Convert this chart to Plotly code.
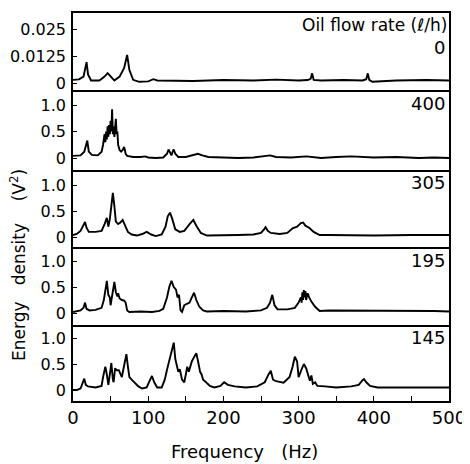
import plotly.graph_objects as go

# ---------------- data ----------------
flow_labels = ["0", "400", "305", "195", "145"]

f0 = [0, 8, 14, 17, 18, 20, 24, 35, 42, 46, 50, 55, 62, 68, 72, 75, 80, 88, 100, 107, 112, 130, 160,
      200, 240, 270, 300, 312, 316, 318, 320, 330, 360, 385, 390, 392, 394, 398, 430, 470, 500]
v0 = [0.0015, 0.0017, 0.003, 0.008, 0.0097, 0.004, 0.0012, 0.0012, 0.003, 0.0046, 0.003, 0.0012, 0.003,
      0.007, 0.013, 0.006, 0.0015, 0.0006, 0.0008, 0.0018, 0.0012, 0.0012, 0.001, 0.0014, 0.0012, 0.0016,
      0.0012, 0.0014, 0.002, 0.0045, 0.0015, 0.0012, 0.0014, 0.0012, 0.0018, 0.0045, 0.0015, 0.0006,
      0.0012, 0.0014, 0.0012]

f1 = [0, 5, 10, 15, 17, 19, 21, 25, 33, 38, 40, 42, 43, 44, 45, 46, 47, 48, 49, 50, 51, 52, 53, 54,
      55, 56, 57, 58, 59, 60, 62, 64, 66, 68, 69, 70, 72, 75, 80, 90, 96, 100, 110, 120, 125, 127, 129,
      131, 133, 134, 136, 140, 150, 160, 166, 172, 180, 200, 220, 240, 262, 270, 290, 310, 330, 350,
      370, 400, 430, 460, 480, 500]
v1 = [0.04, 0.05, 0.05, 0.12, 0.25, 0.33, 0.12, 0.06, 0.05, 0.12, 0.25, 0.45, 0.3, 0.5, 0.35, 0.6,
      0.4, 0.62, 0.45, 0.7, 0.5, 0.92, 0.45, 0.6, 0.4, 0.55, 0.74, 0.45, 0.5, 0.25, 0.15, 0.12, 0.15,
      0.21, 0.12, 0.08, 0.04, 0.03, 0.02, 0.02, 0.03, 0.01, 0.0, 0.01, 0.08, 0.16, 0.1, 0.05, 0.14,
      0.16, 0.08, 0.02, 0.02, 0.05, 0.08, 0.05, 0.02, 0.01, 0.0, 0.01, 0.05, 0.02, 0.01, 0.03, 0.0,
      0.02, 0.03, 0.01, 0.02, 0.0, 0.01, 0.0]

f2 = [0, 5, 10, 14, 16, 18, 21, 30, 38, 42, 45, 47, 49, 51, 53, 55, 57, 60, 63, 66, 69, 73, 78, 85,
      92, 98, 104, 110, 118, 123, 126, 129, 132, 136, 142, 148, 155, 160, 164, 170, 178, 190, 220, 240,
      250, 254, 256, 259, 263, 275, 285, 292, 298, 303, 306, 309, 314, 320, 328, 340, 400, 450, 500]
v2 = [0.04, 0.06, 0.12, 0.22, 0.29, 0.18, 0.1, 0.1, 0.12, 0.25, 0.37, 0.2, 0.35, 0.6, 0.85, 0.6, 0.3,
      0.25, 0.28, 0.33, 0.22, 0.1, 0.05, 0.03, 0.06, 0.1, 0.05, 0.02, 0.05, 0.2, 0.4, 0.47, 0.35, 0.15,
      0.1, 0.12, 0.25, 0.33, 0.22, 0.08, 0.03, 0.03, 0.04, 0.05, 0.08, 0.15, 0.19, 0.12, 0.08, 0.06,
      0.08, 0.17, 0.2, 0.27, 0.28, 0.22, 0.18, 0.1, 0.04, 0.04, 0.03, 0.04, 0.04]

f3 = [0, 5, 10, 14, 16, 18, 22, 30, 38, 41, 43, 45, 47, 49, 50, 52, 53, 55, 57, 59, 60, 62, 65, 68, 70,
      72, 75, 90, 105, 115, 120, 125, 128, 131, 134, 137, 139, 141, 143, 145, 148, 152, 155, 158, 161,
      164, 168, 173, 178, 200, 230, 250, 258, 262, 265, 268, 272, 285, 295, 300, 303, 304, 305, 306,
      307, 308, 309, 310, 312, 314, 317, 322, 328, 340, 370, 400, 430, 460, 480, 500]
v3 = [0.02, 0.04, 0.05, 0.1, 0.2, 0.08, 0.05, 0.06, 0.1, 0.25, 0.45, 0.62, 0.35, 0.3, 0.15, 0.3, 0.45,
      0.6, 0.4, 0.32, 0.38, 0.28, 0.25, 0.24, 0.2, 0.05, 0.02, 0.03, 0.02, 0.04, 0.08, 0.3, 0.5, 0.62,
      0.5, 0.45, 0.3, 0.35, 0.05, 0.02, 0.15, 0.18, 0.2, 0.3, 0.39, 0.25, 0.12, 0.05, 0.03, 0.04, 0.03,
      0.05, 0.1, 0.2, 0.35, 0.15, 0.07, 0.07, 0.1, 0.2, 0.3, 0.2, 0.4, 0.25, 0.44, 0.3, 0.42, 0.25, 0.38,
      0.3, 0.22, 0.12, 0.04, 0.05, 0.05, 0.04, 0.04, 0.05, 0.04, 0.03]

f4 = [0, 5, 10, 13, 15, 17, 20, 30, 38, 40, 43, 45, 47, 49, 51, 53, 54, 56, 58, 61, 63, 65, 67, 69, 71,
      73, 75, 78, 82, 87, 92, 98, 102, 105, 108, 112, 118, 122, 126, 130, 132, 134, 136, 138, 140, 142,
      145, 148, 150, 152, 154, 158, 162, 164, 167, 169, 171, 173, 177, 182, 188, 196, 201, 206, 215,
      230, 245, 255, 260, 263, 266, 270, 280, 288, 292, 295, 298, 300, 304, 307, 310, 313, 315, 317,
      319, 322, 325, 335, 350, 370, 380, 385, 387, 390, 395, 405, 430, 470, 500]
v4 = [0.0, 0.0, 0.03, 0.15, 0.22, 0.1, 0.07, 0.05, 0.08, 0.25, 0.45, 0.3, 0.1, 0.3, 0.52, 0.2, 0.15,
      0.42, 0.38, 0.38, 0.3, 0.25, 0.4, 0.55, 0.69, 0.45, 0.25, 0.2, 0.15, 0.07, 0.03, 0.05, 0.18, 0.27,
      0.15, 0.05, 0.05, 0.2, 0.45, 0.7, 0.8, 0.91, 0.6, 0.45, 0.35, 0.4, 0.2, 0.15, 0.3, 0.45, 0.35,
      0.55, 0.66, 0.71, 0.5, 0.35, 0.3, 0.2, 0.15, 0.08, 0.05, 0.08, 0.15, 0.1, 0.07, 0.05, 0.07, 0.15,
      0.3, 0.37, 0.2, 0.17, 0.14, 0.25, 0.45, 0.64, 0.55, 0.25, 0.4, 0.5, 0.42, 0.3, 0.18, 0.28, 0.12,
      0.15, 0.08, 0.07, 0.05, 0.07, 0.1, 0.19, 0.21, 0.15, 0.08, 0.05, 0.05, 0.06, 0.05]

freqs = [f0, f1, f2, f3, f4]
values = [v0, v1, v2, v3, v4]

x_ticks = [0, 100, 200, 300, 400, 500]
y_ticks_top = [0, 0.0125, 0.025]
y_ticktext_top = ["0", "0.0125", "0.025"]
y_ticks = [0, 0.5, 1.0]
y_ticktext = ["0", "0.5", "1.0"]

# ---------------- layout ----------------
FONT = "DejaVu Sans"
W, H = 470, 464
# the page body adds an 8px offset, margins compensate for it
ML, MT = 65, 5
PW, PH = 376, 388
MR = W - ML - PW
MB = H - MT - PH
domains = [[0.8015, 1.0], [0.5954, 0.8015], [0.3969, 0.5954], [0.1959, 0.3969], [0.0, 0.1959]]
yranges = [[-0.0032, 0.0324], [-0.226, 1.283], [-0.19, 1.29], [-0.23, 1.27], [-0.21, 1.25]]

fig = go.Figure()
layout = dict(
    width=W, height=H,
    margin=dict(l=ML, r=MR, t=MT, b=MB, autoexpand=False),
    paper_bgcolor="white", plot_bgcolor="white",
    showlegend=False,
    font=dict(family=FONT, size=16, color="black"),
)

for i in range(5):
    n = "" if i == 0 else str(i + 1)
    fig.add_trace(go.Scatter(x=freqs[i], y=values[i], mode="lines",
                             line=dict(color="black", width=1.9),
                             xaxis="x" + n, yaxis="y" + n, hoverinfo="skip"))
    last = (i == 4)
    xa = dict(
        domain=[0, 1], anchor="y" + n, range=[0, 500], automargin=False,
        showline=True, linecolor="black", linewidth=1.5, mirror=(i == 0),
        showgrid=False, zeroline=False,
        ticks="inside" if last else "", ticklen=5, tickwidth=1.2, tickcolor="black",
        tickvals=x_ticks if last else [], showticklabels=last,
        tickfont=dict(family=FONT, size=18),
    )
    if last:
        xa["minor"] = dict(ticks="inside", dtick=50, ticklen=5, tickwidth=1.2, tickcolor="black")
    layout["xaxis" + n] = xa
    layout["yaxis" + n] = dict(
        domain=domains[i], anchor="x" + n, range=yranges[i], automargin=False,
        showline=True, linecolor="black", linewidth=1.5, mirror=True,
        showgrid=False, zeroline=False,
        ticks="inside", ticklen=4, tickwidth=1.2, tickcolor="black",
        tickvals=y_ticks_top if i == 0 else y_ticks,
        ticktext=y_ticktext_top if i == 0 else y_ticktext,
        tickfont=dict(family=FONT, size=16), ticklabelstandoff=2,
    )

annotations = []
for i in range(5):
    top = domains[i][1]
    if i == 0:
        annotations.append(dict(text="Oil flow rate (ℓ/h)", xref="paper", yref="paper",
                                x=1.0, y=top - 11.5 / PH, xanchor="right", yanchor="middle",
                                showarrow=False, font=dict(family=FONT, size=17)))
        annotations.append(dict(text=flow_labels[i], xref="paper", yref="paper",
                                x=0.995, y=top - 34.5 / PH, xanchor="right", yanchor="middle",
                                showarrow=False, font=dict(family=FONT, size=18)))
    else:
        annotations.append(dict(text=flow_labels[i], xref="paper", yref="paper",
                                x=0.995, y=top - 13 / PH, xanchor="right", yanchor="middle",
                                showarrow=False, font=dict(family=FONT, size=18)))

annotations.append(dict(text="Frequency\u00a0\u00a0\u00a0(Hz)", xref="paper", yref="paper",
                        x=0.455, y=-50 / PH, xanchor="center", yanchor="middle",
                        showarrow=False, font=dict(family=FONT, size=18)))
annotations.append(dict(text="Energy\u00a0\u00a0\u00a0density\u00a0\u00a0\u00a0\u00a0(V<sup>2</sup>)", xref="paper", yref="paper",
                        x=-(ML - 10) / PW, y=(401 - 265) / PH,
                        xanchor="center", yanchor="middle", textangle=-90,
                        showarrow=False, font=dict(family=FONT, size=17)))
layout["annotations"] = annotations

fig.update_layout(**layout)
fig.write_html("out.html")
